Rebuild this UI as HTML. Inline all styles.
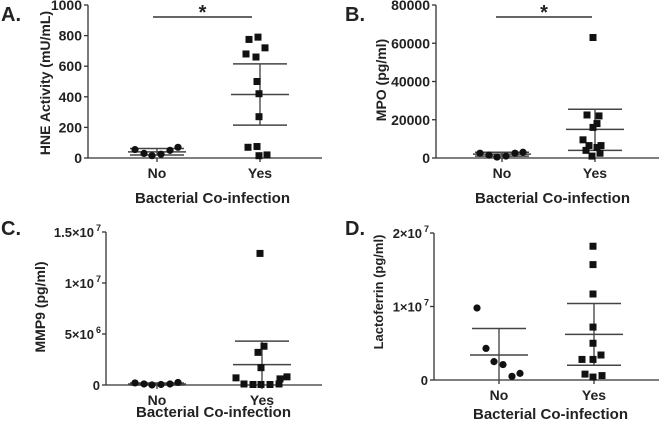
<!DOCTYPE html>
<html><head><meta charset="utf-8"><style>
html,body{margin:0;padding:0;background:#fff;}
svg{display:block;font-family:"Liberation Sans",Arial,sans-serif;font-weight:bold;}
</style></head><body>
<svg id="fig" width="659" height="424" viewBox="0 0 659 424" xmlns="http://www.w3.org/2000/svg"></svg>
<script>
// Panel A: HNE
const aNo = [55, 30, 15, 25, 50, 70];
const aYes = [775, 790, 680, 660, 720, 500, 420, 270, 70, 75, 15, 20];
const aStats = [40, 20, 62, 415, 215, 615]; // noMean, noLo, noHi, yesMean, yesLo, yesHi
const aTicks = [0, 200, 400, 600, 800, 1000];
// Panel B: MPO
const bNo = [2500, 1500, 500, 1000, 2500, 3000];
const bYes = [63000, 22500, 22000, 16000, 18000, 9500, 6500, 5500, 6500, 4000, 1000, 2500];
const bStats = [2000, 1000, 3000, 15000, 4000, 25500];
const bTicks = [0, 20000, 40000, 60000, 80000];
// Panel C: MMP9
const cNo = [200000, 100000, 0, 50000, 100000, 250000];
const cYes = [12900000, 3800000, 3200000, 1700000, 700000, 600000, 800000, 100000, 50000, 50000, 50000, 100000];
const cStats = [100000, 0, 200000, 2000000, -300000, 4300000];
const cTicks = [0, 5000000, 10000000, 15000000];
const cTickLabels = [["0",""], ["5×10","6"], ["1×10","7"], ["1.5×10","7"]];
// Panel D: Lactoferrin
const dNo = [9800000, 4300000, 2500000, 2100000, 500000, 900000];
const dYes = [18200000, 15700000, 11700000, 7200000, 5000000, 2800000, 2800000, 3400000, 800000, 400000, 600000];
const dStats = [3400000, -200000, 7000000, 6200000, 2000000, 10400000];
const dTicks = [0, 10000000, 20000000];
const dTickLabels = [["0",""], ["1×10","7"], ["2×10","7"]];

const NS = "http://www.w3.org/2000/svg";
const svg = document.getElementById('fig');
function mk(tag, attrs, parent){
  const e = document.createElementNS(NS, tag);
  for (const k in attrs) e.setAttribute(k, attrs[k]);
  (parent||svg).appendChild(e);
  return e;
}
// jitter offsets (layout only)
const noOff = [-22, -13, -5, 4, 13, 21];
const yesOff12 = [-11, -2, -14, -4, 5, -3, -1, -1, -12, -3, -1, 7];
const yesOffB = [-2, -8, 4, -2, 2, -12, -6, 2, 6, -9, -3, 5];
const yesOffC = [-2, 2, -4, -1, -26, 18, 25, -18, -9, -1, 8, 17];
const yesOffD = [-1, -1, -1, -1, -1, -12, -1, 7, -9, -1, 8];

function panel(o){
  const g = mk('g', {});
  
  
  const y = v => o.y0 - (v - o.tmin) / (o.tmax - o.tmin) * (o.y0 - o.y1);
  const lab = mk('text', {x:o.letterX, y:o.letterY, 'font-size':20, fill:'#222'}, g);
  lab.textContent = o.letter;
  
  
  // axes
  const ya = mk('line', {x1:o.ax, x2:o.ax, y1:o.y1, y2:o.y0, stroke:'#333', 'stroke-width':1.3}, g);
  
  
  const xa = mk('line', {x1:o.ax, x2:o.axEnd, y1:o.y0, y2:o.y0, stroke:'#333', 'stroke-width':1.3}, g);
  
  
  o.ticks.forEach((t, i) => {
    const ty = y(t);
    mk('line', {x1:o.ax-4, x2:o.ax, y1:ty, y2:ty, stroke:'#333', 'stroke-width':1.3}, g);
    const tx = mk('text', {x:o.ax-6, y:ty+5, 'text-anchor':'end', 'font-size':o.tickSize, fill:'#222'}, g);
    if (o.tickLabels) {
      const l = o.tickLabels[i];
      if (l[1]) {
        tx.textContent = l[0];
        tx.setAttribute('x', o.ax - 12);
        const sp = mk('text', {x:o.ax-10, y:ty-1, 'font-size':9, fill:'#222'}, g);
        sp.textContent = l[1];
      } else tx.textContent = l[0];
    } else tx.textContent = String(t);
    
    
  });
  [['No', o.xNo], ['Yes', o.xYes]].forEach(([s, cx]) => {
    mk('line', {x1:cx, x2:cx, y1:o.y0, y2:o.y0+4, stroke:'#333', 'stroke-width':1.3}, g);
    const t = mk('text', {x:cx, y:o.y0+20, 'text-anchor':'middle', 'font-size':14, fill:'#222'}, g);
    t.textContent = s;
    
    
  });
  const xt = mk('text', {x:(o.xNo+o.xYes)/2+4, y:o.xTitleY, 'text-anchor':'middle', 'font-size':15, fill:'#222'}, g);
  xt.textContent = 'Bacterial Co-infection';
  
  
  const yt = mk('text', {x:0, y:0, 'text-anchor':'middle', 'font-size':o.yTitleSize, fill:'#222', transform:`translate(${o.yTitleX},${o.yTitleY}) rotate(-90)`}, g);
  yt.textContent = o.yTitle;
  
  
  // stats
  const st = o.stats;
  [[o.xNo, st[0], st[1], st[2]], [o.xYes, st[3], st[4], st[5]]].forEach(([cx, m, lo, hi]) => {
    const lo2 = Math.max(lo, o.tmin);
    mk('line', {x1:cx, x2:cx, y1:y(hi), y2:y(lo2), stroke:'#555', 'stroke-width':1.5}, g);
    const ml = mk('line', {x1:cx-29, x2:cx+29, y1:y(m), y2:y(m), stroke:'#444', 'stroke-width':1.5}, g);
    
    
    mk('line', {x1:cx-27, x2:cx+27, y1:y(hi), y2:y(hi), stroke:'#444', 'stroke-width':1.5}, g);
    if (lo >= o.tmin) mk('line', {x1:cx-27, x2:cx+27, y1:y(lo), y2:y(lo), stroke:'#444', 'stroke-width':1.5}, g);
  });
  o.no.forEach((v, i) => {
    const c = mk('circle', {cx:o.xNo+noOff[i], cy:y(v), r:3.6, fill:'#111'}, g);
    
    
  });
  o.yes.forEach((v, i) => {
    const s = mk('rect', {x:o.xYes+o.yesOff[i]-3.5, y:y(v)-3.5, width:7, height:7, fill:'#111'}, g);
    
    
  });
  if (o.sig) {
    const b = mk('line', {x1:o.sig[0], x2:o.sig[1], y1:o.sig[2], y2:o.sig[2], stroke:'#333', 'stroke-width':1.5}, g);
    
    
    const s = mk('text', {x:(o.sig[0]+o.sig[1])/2, y:o.sig[2]+2, 'text-anchor':'middle', 'font-size':20, fill:'#222'}, g);
    s.textContent = '*';
    
    
  }
}
panel({id:'panel-a-hne', letter:'A.', letterX:1, letterY:21, ax:88, axEnd:322, y0:158, y1:5, tmin:0, tmax:1000,
  ticks:aTicks, tickSize:14, xNo:157, xYes:260, xTitleY:203, yTitle:'HNE Activity (mU/mL)', yTitleSize:14, yTitleX:50, yTitleY:83,
  stats:aStats, no:aNo, yes:aYes, yesOff:yesOff12, sig:[153, 252, 17]});
panel({id:'panel-b-mpo', letter:'B.', letterX:345, letterY:21, ax:436, axEnd:659, y0:158, y1:5, tmin:0, tmax:80000,
  ticks:bTicks, tickSize:14, xNo:502, xYes:595, xTitleY:203, yTitle:'MPO (pg/ml)', yTitleSize:14, yTitleX:386, yTitleY:80,
  stats:bStats, no:bNo, yes:bYes, yesOff:yesOffB, sig:[496, 592, 17]});
panel({id:'panel-c-mmp9', letter:'C.', letterX:1, letterY:235, ax:106, axEnd:322, y0:385, y1:232, tmin:0, tmax:15000000,
  ticks:cTicks, tickLabels:cTickLabels, tickSize:13, xNo:157, xYes:262, xTitleY:417, yTitle:'MMP9 (pg/ml)', yTitleSize:14, yTitleX:45, yTitleY:307,
  stats:cStats, no:cNo, yes:cYes, yesOff:yesOffC});
panel({id:'panel-d-lactoferrin', letter:'D.', letterX:345, letterY:235, ax:434, axEnd:659, y0:380, y1:233, tmin:0, tmax:20000000,
  ticks:dTicks, tickLabels:dTickLabels, tickSize:13, xNo:499, xYes:594, xTitleY:419, yTitle:'Lactoferrin (pg/ml)', yTitleSize:13, yTitleX:383, yTitleY:292,
  stats:dStats, no:dNo, yes:dYes, yesOff:yesOffD});
</script>
</body></html>
